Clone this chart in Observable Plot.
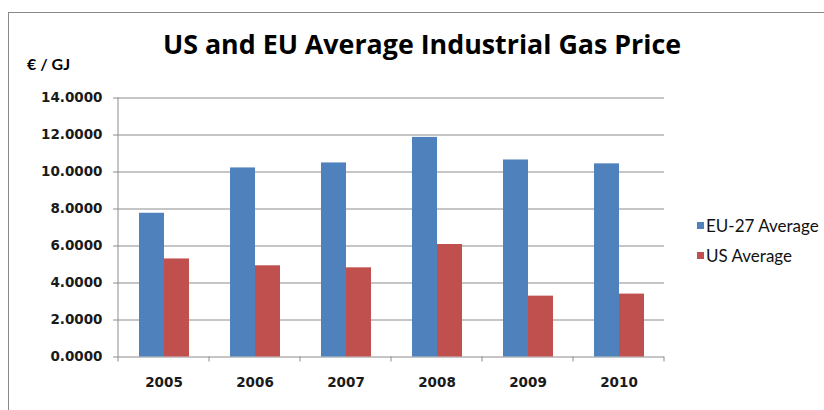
<!DOCTYPE html>
<html>
<head>
<meta charset="utf-8">
<script src="https://cdn.jsdelivr.net/npm/d3@7"></script>
<script src="https://cdn.jsdelivr.net/npm/@observablehq/plot@0.6"></script>
<style>
  html, body { margin: 0; padding: 0; background: #fff; }
  #wrap { position: relative; width: 824px; height: 410px; overflow: hidden; background: #fff; }
  #frame { position: absolute; left: 8px; top: 12px; width: 830px; height: 420px;
           border-left: 1px solid #8a8a8a; border-top: 1px solid #8a8a8a; }
  #title { position: absolute; left: 0; width: 844px; top: 24.7px; text-align: center;
           font-family: "Open Sans", Lato, sans-serif; font-weight: bold; font-size: 26.8px; color: #000; white-space: nowrap; }
  #unit { position: absolute; left: 27px; top: 54px; font-family: Lato, sans-serif; font-weight: bold; font-size: 16px; color: #000; }
  #chart { position: absolute; left: 0; top: 0; }
  #legend { position: absolute; left: 697px; top: 210px; font-family: Lato, "Open Sans", sans-serif; font-size: 17px; color: #111; }
  .item { display: flex; align-items: center; height: 30px; white-space: nowrap; }
  .sw { width: 7px; height: 7px; margin-right: 2px; }
</style>
</head>
<body>
<div id="wrap">
  <div id="frame"></div>
  <div id="title"></div>
  <div id="unit"></div>
  <div id="chart"></div>
  <div id="legend"></div>
</div>
<script>
const titleText = "US and EU Average Industrial Gas Price";
const unitText = "€ / GJ";
const years = ["2005", "2006", "2007", "2008", "2009", "2010"];
const seriesNames = ["EU-27 Average", "US Average"];
const euAvg = [7.77, 10.22, 10.49, 11.87, 10.65, 10.44];
const usAvg = [5.30, 4.93, 4.82, 6.08, 3.29, 3.40];
const yTicks = [0, 2, 4, 6, 8, 10, 12, 14];
const colors = ["#4F81BD", "#C0504D"];

document.getElementById("title").textContent = titleText;
document.getElementById("unit").textContent = unitText;

const data = years.flatMap((yr, i) => [
  {year: yr, series: seriesNames[0], value: euAvg[i]},
  {year: yr, series: seriesNames[1], value: usAvg[i]}
]);

const gridColor = "#8c8c8c";
const svg = Plot.plot({
  width: 824,
  height: 410,
  marginLeft: 116,
  marginRight: 158,
  marginTop: 97.5,
  marginBottom: 53.5,
  style: {background: "transparent", fontFamily: "'DejaVu Sans', sans-serif", fontSize: "13.5px", fontWeight: "bold", color: "#1a1a1a"},
  fx: {domain: years, padding: 0, label: null, axis: null},
  x: {domain: seriesNames, paddingInner: 0, paddingOuter: 0.763, axis: null},
  y: {domain: [0, 14], axis: null},
  color: {domain: seriesNames, range: colors},
  marks: [
    Plot.gridY(yTicks, {stroke: gridColor, strokeOpacity: 1, strokeWidth: 1}),
    Plot.barY(data, {fx: "year", x: "series", y: "value", fill: "series"}),
    Plot.axisY(yTicks, {anchor: "left", tickSize: 5, tickPadding: 11, stroke: gridColor, tickFormat: d3.format(".4f"), label: null}),
    Plot.axisFx({anchor: "bottom", tickSize: 0, tickPadding: 20, label: null})
  ]
});

// axis line and category-boundary ticks from the library's scales
const fx = svg.scale("fx");
const y = svg.scale("y");
const bounds = years.map(yr => fx.apply(yr)).concat([fx.apply(years[years.length - 1]) + fx.bandwidth]);
const g = d3.select(svg).append("g").attr("stroke", gridColor).attr("stroke-width", 1);
g.append("line").attr("x1", bounds[0]).attr("x2", bounds[0]).attr("y1", y.apply(0)).attr("y2", y.apply(14));
g.selectAll("line.b").data(bounds).join("line").attr("class", "b")
  .attr("x1", d => d).attr("x2", d => d).attr("y1", y.apply(0)).attr("y2", y.apply(0) + 5);

document.getElementById("chart").appendChild(svg);

const legend = document.getElementById("legend");
seriesNames.forEach((s, i) => {
  const item = document.createElement("div");
  item.className = "item";
  const sw = document.createElement("span");
  sw.className = "sw";
  sw.style.background = colors[i];
  const t = document.createElement("span");
  t.textContent = s;
  item.appendChild(sw);
  item.appendChild(t);
  legend.appendChild(item);
});
</script>
</body>
</html>
